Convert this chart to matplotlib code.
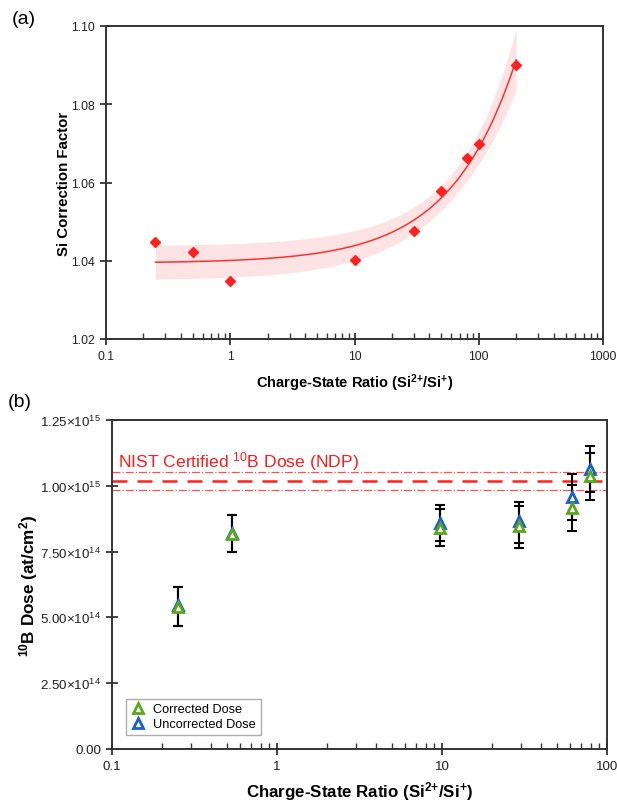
import numpy as np
import matplotlib
matplotlib.use("Agg")
import matplotlib.pyplot as plt
from matplotlib.ticker import FuncFormatter, LogLocator, NullFormatter

plt.rcParams['font.family'] = ['Liberation Sans', 'DejaVu Sans']
plt.rcParams['mathtext.fontset'] = 'custom'
plt.rcParams['mathtext.rm'] = 'Liberation Sans'
plt.rcParams['mathtext.bf'] = 'Liberation Sans:bold'
plt.rcParams['mathtext.default'] = 'regular'

# (a) Si correction factor vs charge-state ratio
ratio_a = np.array([0.25, 0.5, 1, 10, 30, 50, 80, 100, 200])
corr_factor = np.array([1.0449, 1.0423, 1.0349, 1.0403, 1.0477, 1.0577, 1.0662, 1.0698, 1.0901])

# (b) 10B dose, corrected and uncorrected, with error bars
ratio_b = np.array([0.25, 0.53, 9.7, 29.1, 61.7, 79.4])
dose_corr = np.array([0.541, 0.816, 0.841, 0.848, 0.917, 1.037]) * 1e15
err_corr_lo = np.array([0.073, 0.066, 0.069, 0.084, 0.090, 0.091]) * 1e15
err_corr_hi = np.array([0.075, 0.072, 0.069, 0.074, 0.085, 0.086]) * 1e15
dose_unc = np.array([0.546, 0.822, 0.860, 0.867, 0.959, 1.065]) * 1e15
err_unc_lo = np.array([0.078, 0.072, 0.068, 0.085, 0.089, 0.088]) * 1e15
err_unc_hi = np.array([0.070, 0.066, 0.068, 0.072, 0.085, 0.088]) * 1e15
ndp_dose = 1.018e15
ndp_unc = 0.033e15

W, H = 617, 804
fig = plt.figure(figsize=(W / 100, H / 100), dpi=100)


def px_axes(left, top, right, bottom):
    return fig.add_axes([left / W, 1 - bottom / H, (right - left) / W, (bottom - top) / H])


def style_axes(ax, lsize):
    for s in ax.spines.values():
        s.set_color('#333333')
        s.set_linewidth(1.4)
    ax.tick_params(which='major', direction='inout', length=9, width=1.3, color='#333333',
                   labelsize=lsize, labelcolor='#222222', top=False, right=False)
    ax.tick_params(which='minor', direction='in', length=4, width=1.0, color='#333333',
                   top=False, right=False)
    ax.xaxis.set_major_formatter(FuncFormatter(lambda v, p: '%g' % v))
    ax.xaxis.set_minor_locator(LogLocator(base=10, subs=np.arange(2, 10)))
    ax.xaxis.set_minor_formatter(NullFormatter())


xlabel_txt = r'Charge-State Ratio (Si$^{\mathbf{2{+}}}$/Si$^{\mathbf{{+}}}$)'

# ---- panel (a)
ax1 = px_axes(106, 27, 603, 340)
ax1.set_xscale('log')
ax1.set_xlim(0.1, 1000)
ax1.set_ylim(1.02, 1.10)
ax1.set_yticks([1.02, 1.04, 1.06, 1.08, 1.10])
ax1.yaxis.set_major_formatter(FuncFormatter(lambda v, p: '%.2f' % v))
style_axes(ax1, 8.8)

# fit y = a + b*x^c to the points (least squares, grid over c)
best = None
for c in np.linspace(0.2, 2.0, 361):
    X = np.column_stack([np.ones_like(ratio_a), ratio_a ** c])
    coef, res, _, _ = np.linalg.lstsq(X, corr_factor, rcond=None)
    sse = np.sum((X @ coef - corr_factor) ** 2)
    if best is None or sse < best[0]:
        best = (sse, c, coef, X)
sse, c_fit, coef, X = best
n = len(ratio_a)
s2 = sse / (n - 3)
cov = s2 * np.linalg.inv(X.T @ X)
xf = np.logspace(np.log10(ratio_a.min()), np.log10(ratio_a.max()), 300)
Xf = np.column_stack([np.ones_like(xf), xf ** c_fit])
yf = Xf @ coef
se = np.sqrt(np.einsum('ij,jk,ik->i', Xf, cov, Xf))
t95 = 2.447
ax1.fill_between(xf, yf - t95 * se, yf + t95 * se, color='#fde3e3', lw=0, zorder=1)
ax1.plot(xf, yf, color='#ff3030', lw=1.1, zorder=2)
ax1.plot(ratio_a, corr_factor, 'D', color='#ff2020', ms=5, zorder=3)

ax1.set_ylabel('Si Correction Factor', fontsize=10.8, fontweight='bold', labelpad=0)
ax1.set_xlabel(xlabel_txt, fontsize=10.5, fontweight='bold', labelpad=7)
fig.text(12 / W, 1 - 20 / H, '(a)', fontsize=14, va='center', ha='left')

# ---- panel (b)
ax2 = px_axes(112, 421, 607, 750)
ax2.set_xscale('log')
ax2.set_xlim(0.1, 100)
ax2.set_ylim(0, 1.25e15)
ax2.set_yticks(np.arange(0, 1.26e15, 0.25e15))


def dose_fmt(v, p):
    if v == 0:
        return '0.00'
    e = int(np.floor(np.log10(v)))
    return r'$%.2f{\times}10^{%d}$' % (v / 10 ** e, e)


ax2.yaxis.set_major_formatter(FuncFormatter(dose_fmt))
style_axes(ax2, 9.6)

ax2.axhline(ndp_dose, color='#ff2020', ls=(0, (6, 4)), lw=1.8, zorder=1)
ax2.axhline(ndp_dose + ndp_unc, color='#ff5050', ls='-.', lw=0.9, zorder=1)
ax2.axhline(ndp_dose - ndp_unc, color='#ff5050', ls='-.', lw=0.9, zorder=1)
ax2.text(0.013, 0.878, r'NIST Certified $^{10}$B Dose (NDP)', transform=ax2.transAxes,
         color='#ff1a1a', fontsize=12.6, va='center', ha='left')

ax2.errorbar(ratio_b, dose_unc, yerr=[err_unc_lo, err_unc_hi], fmt='none', ecolor='black',
             elinewidth=1.5, capsize=3.5, capthick=1.5, zorder=2)
ax2.errorbar(ratio_b, dose_corr, yerr=[err_corr_lo, err_corr_hi], fmt='none', ecolor='black',
             elinewidth=1.5, capsize=3.5, capthick=1.5, zorder=2)
ax2.plot(ratio_b, dose_unc, '^', mfc='white', mec='#1a5fd0', mew=2, ms=7, zorder=3,
         label='Uncorrected Dose')
ax2.plot(ratio_b, dose_corr, '^', mfc='white', mec='#5aa61c', mew=2, ms=7, zorder=4,
         label='Corrected Dose')

h, l = ax2.get_legend_handles_labels()
leg = ax2.legend(h[::-1], l[::-1], loc='lower left', bbox_to_anchor=(0.028, 0.043),
                 borderaxespad=0, fontsize=9.2, frameon=True, fancybox=False,
                 handletextpad=0.6, borderpad=0.35, labelspacing=0.25, handlelength=1.2)
leg.get_frame().set_edgecolor('#999999')
leg.get_frame().set_linewidth(1.0)

ax2.set_ylabel(r'$\mathbf{^{10}}$B Dose (at/cm$^{\mathbf{2}}$)', fontsize=12.3,
               fontweight='bold', labelpad=0)
ax2.set_xlabel(xlabel_txt, fontsize=12.2, fontweight='bold', labelpad=5)
fig.text(8 / W, 1 - 403 / H, '(b)', fontsize=14, va='center', ha='left')

fig.savefig('out.png', dpi=100)
